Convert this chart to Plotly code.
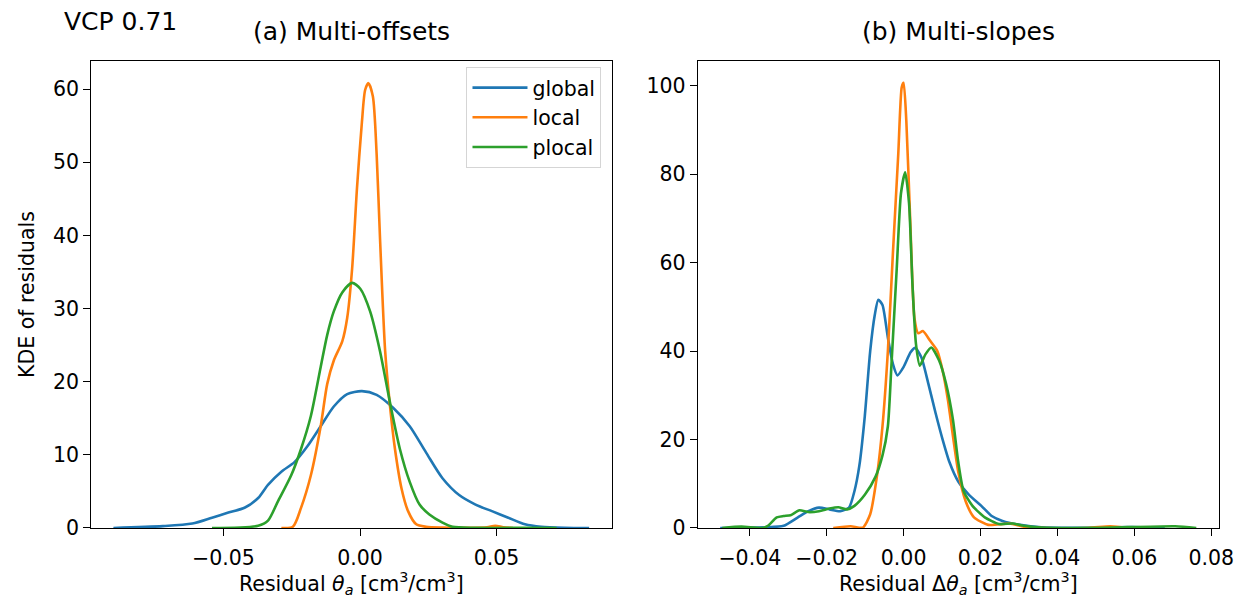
import plotly.graph_objects as go

# ---------------- data ----------------
series_names = ["global", "local", "plocal"]
colors = ["#1f77b4", "#ff7f0e", "#2ca02c"]

# (a) Multi-offsets
a_global_x = [-0.0903, -0.0722, -0.0614, -0.0542, -0.0482, -0.0421, -0.0373, -0.0337, -0.0288, -0.024,
              -0.0192, -0.0144, -0.0096, -0.0047, 0.0007, 0.0061, 0.0122, 0.0182, 0.0242, 0.0302,
              0.0363, 0.0423, 0.0483, 0.0543, 0.0604, 0.0664, 0.075, 0.0839]
a_global_y = [0.0, 0.25, 0.6, 1.4, 2.1, 2.8, 4.1, 5.9, 7.7, 9.0,
              11.2, 13.9, 16.6, 18.3, 18.7, 18.2, 16.4, 13.9, 10.3, 6.8,
              4.5, 3.2, 2.3, 1.4, 0.5, 0.16, 0.03, 0.0]

a_local_x = [-0.0288, -0.0246, -0.0216, -0.018, -0.0144, -0.012, -0.0096, -0.0065, -0.0047, -0.0029,
             -0.0011, 0.0007, 0.0019, 0.0031, 0.0047, 0.0061, 0.0073, 0.0092, 0.011, 0.0128,
             0.0152, 0.0176, 0.0206, 0.0242, 0.0302, 0.04, 0.0465, 0.0495, 0.0525, 0.056]
a_local_y = [0.0, 0.16, 2.75, 7.2, 13.9, 19.7, 22.9, 25.5, 28.7, 35.4,
             46.5, 55.5, 59.9, 60.8, 59.0, 51.0, 39.8, 24.2, 16.6, 10.8,
             5.4, 2.3, 0.5, 0.16, 0.05, 0.02, 0.1, 0.3, 0.1, 0.0]

a_plocal_x = [-0.0542, -0.0373, -0.0337, -0.0301, -0.0252, -0.0216, -0.018, -0.0144, -0.012, -0.0096,
              -0.0065, -0.0029, 0.0001, 0.0037, 0.0073, 0.011, 0.0146, 0.0182, 0.0218, 0.0254,
              0.0302, 0.0339, 0.0423, 0.06, 0.072]
a_plocal_y = [0.0, 0.3, 1.0, 3.6, 7.2, 10.8, 15.3, 22.0, 26.4, 29.6,
              32.2, 33.5, 32.7, 29.6, 24.2, 17.1, 10.8, 6.3, 3.2, 1.85,
              0.74, 0.16, 0.02, 0.01, 0.0]

# (b) Multi-slopes
b_global_x = [-0.0477, -0.0358, -0.0312, -0.0275, -0.0248, -0.022, -0.0193, -0.0165, -0.0142, -0.0128,
              -0.0115, -0.0101, -0.0087, -0.0075, -0.0066, -0.0055, -0.0041, -0.0028, -0.0016, 0.0,
              0.0018, 0.003, 0.0046, 0.0064, 0.0083, 0.0101, 0.0119, 0.0142, 0.017, 0.0202,
              0.0229, 0.0257, 0.0303, 0.0358, 0.045, 0.0596, 0.0679]
b_global_y = [0.0, 0.15, 0.5, 2.4, 3.8, 4.6, 4.2, 3.8, 4.6, 8.3,
              14.2, 25.3, 40.0, 48.2, 51.6, 50.4, 43.0, 37.1, 34.5, 36.4,
              39.7, 40.7, 38.6, 32.7, 26.0, 20.1, 14.9, 10.5, 7.5, 5.0,
              2.7, 1.6, 0.7, 0.15, 0.05, 0.2, 0.0]

b_local_x = [-0.0183, -0.0138, -0.0106, -0.0087, -0.0069, -0.0055, -0.0041, -0.0028, -0.0014, -0.0005,
             0.0, 0.0007, 0.0017, 0.0028, 0.0038, 0.005, 0.0069, 0.0087, 0.0101, 0.0115,
             0.0128, 0.0142, 0.0161, 0.0183, 0.022, 0.0275, 0.0312, 0.036, 0.048, 0.0537, 0.0587]
b_local_y = [0.0, 0.4, 0.1, 3.1, 12.0, 23.0, 40.0, 62.0, 84.5, 99.6,
             100.6, 91.9, 69.7, 47.5, 44.0, 44.5, 42.3, 40.1, 35.7, 29.0,
             20.9, 12.7, 6.1, 2.4, 0.7, 1.0, 0.3, 0.0, 0.0, 0.4, 0.0]

b_plocal_x = [-0.0472, -0.0422, -0.0367, -0.0353, -0.033, -0.0312, -0.0294, -0.0271, -0.0248, -0.022,
              -0.0193, -0.017, -0.0147, -0.0128, -0.0101, -0.0073, -0.0055, -0.0041, -0.0032, -0.0018,
              -0.0007, 0.0004, 0.0014, 0.0023, 0.0032, 0.0042, 0.0057, 0.0072, 0.0092, 0.011,
              0.0128, 0.0142, 0.0156, 0.0179, 0.0211, 0.0248, 0.0284, 0.0312, 0.0358, 0.05,
              0.0706, 0.0761]
b_plocal_y = [0.0, 0.3, 0.0, 0.5, 2.4, 2.7, 2.9, 4.0, 3.6, 3.8,
              4.4, 4.7, 4.2, 5.0, 7.5, 11.6, 16.4, 23.0, 36.4, 58.6,
              75.6, 80.4, 73.4, 54.9, 41.6, 36.7, 39.3, 40.8, 37.9, 32.7,
              24.6, 14.9, 8.3, 5.0, 2.4, 0.9, 1.0, 0.5, 0.1, 0.02,
              0.4, 0.0]

# ticks
a_xticks = [-0.05, 0.0, 0.05]
a_xticklabels = ["\u22120.05", "0.00", "0.05"]
a_yticks = [0, 10, 20, 30, 40, 50, 60]
b_xticks = [-0.04, -0.02, 0.0, 0.02, 0.04, 0.06, 0.08]
b_xticklabels = ["\u22120.04", "\u22120.02", "0.00", "0.02", "0.04", "0.06", "0.08"]
b_yticks = [0, 20, 40, 60, 80, 100]

a_xrange = [-0.0984, 0.0924]
a_yrange = [0, 63.8]
b_xrange = [-0.0535, 0.0820]
b_yrange = [0, 105.5]

# ---------------- figure ----------------
W, H = 1249, 605
FONT = "DejaVu Sans"
fig = go.Figure()

a_data = [(a_global_x, a_global_y), (a_local_x, a_local_y), (a_plocal_x, a_plocal_y)]
b_data = [(b_global_x, b_global_y), (b_local_x, b_local_y), (b_plocal_x, b_plocal_y)]

for i, (xs, ys) in enumerate(a_data):
    fig.add_trace(go.Scatter(x=xs, y=ys, mode="lines", name=series_names[i],
                             line=dict(color=colors[i], width=2.6, shape="spline", smoothing=0.75),
                             xaxis="x", yaxis="y", showlegend=True))
for i, (xs, ys) in enumerate(b_data):
    fig.add_trace(go.Scatter(x=xs, y=ys, mode="lines", name=series_names[i],
                             line=dict(color=colors[i], width=2.6, shape="spline", smoothing=0.6),
                             xaxis="x2", yaxis="y2", showlegend=False))

def px_x(p):
    return p / W

def px_y(p):
    return 1 - p / H

ydom = [px_y(530.5), px_y(54.3)]
axis_common = dict(showline=True, linecolor="black", linewidth=1.3, mirror=True,
                   ticks="outside", ticklen=7, tickwidth=1.3, tickcolor="black",
                   showgrid=False, zeroline=False,
                   tickfont=dict(family=FONT, size=20.5, color="black"))

fig.update_layout(
    width=W, height=H,
    margin=dict(l=0, r=0, t=0, b=0),
    paper_bgcolor="white", plot_bgcolor="white",
    font=dict(family=FONT, color="black"),
    xaxis=dict(domain=[px_x(84.3), px_x(611.7)], range=a_xrange, anchor="y",
               tickmode="array", tickvals=a_xticks, ticktext=a_xticklabels,
               ticklabelstandoff=4, **axis_common),
    yaxis=dict(domain=ydom, range=a_yrange, anchor="x", tickmode="array", tickvals=a_yticks,
               **axis_common),
    xaxis2=dict(domain=[px_x(698.3), px_x(1225.7)], range=b_xrange, anchor="y2",
                tickmode="array", tickvals=b_xticks, ticktext=b_xticklabels,
                ticklabelstandoff=4, **axis_common),
    yaxis2=dict(domain=ydom, range=b_yrange, anchor="x2", tickmode="array", tickvals=b_yticks,
                **axis_common),
    legend=dict(x=px_x(600.7), y=px_y(60), xanchor="right", yanchor="top",
                bgcolor="white", bordercolor="#d5d5d5", borderwidth=1,
                font=dict(family=FONT, size=20.5, color="black"),
                itemwidth=55, tracegroupgap=0),
    showlegend=True,
)

annots = [
    dict(text="VCP 0.71", x=px_x(55), y=px_y(14), xanchor="left", yanchor="middle", size=25),
    dict(text="(a) Multi-offsets", x=px_x(348), y=px_y(24), xanchor="center", yanchor="middle", size=25),
    dict(text="(b) Multi-slopes", x=px_x(962), y=px_y(24), xanchor="center", yanchor="middle", size=25),
    dict(text="Residual <i>\u03b8</i><sub><i>a</i></sub> [cm<sup>3</sup>/cm<sup>3</sup>]",
         x=px_x(348), y=px_y(587), xanchor="center", yanchor="middle", size=20.5),
    dict(text="Residual \u0394<i>\u03b8</i><sub><i>a</i></sub> [cm<sup>3</sup>/cm<sup>3</sup>]",
         x=px_x(962), y=px_y(587), xanchor="center", yanchor="middle", size=20.5),
]
for a in annots:
    fig.add_annotation(text=a["text"], x=a["x"], y=a["y"], xref="paper", yref="paper",
                       xanchor=a["xanchor"], yanchor=a["yanchor"], showarrow=False,
                       font=dict(family=FONT, size=a["size"], color="black"))
fig.add_annotation(text="KDE of residuals", x=px_x(19), y=px_y(292), xref="paper", yref="paper",
                   xanchor="center", yanchor="middle", showarrow=False, textangle=-90,
                   font=dict(family=FONT, size=20.5, color="black"))

fig.write_html("out.html")
